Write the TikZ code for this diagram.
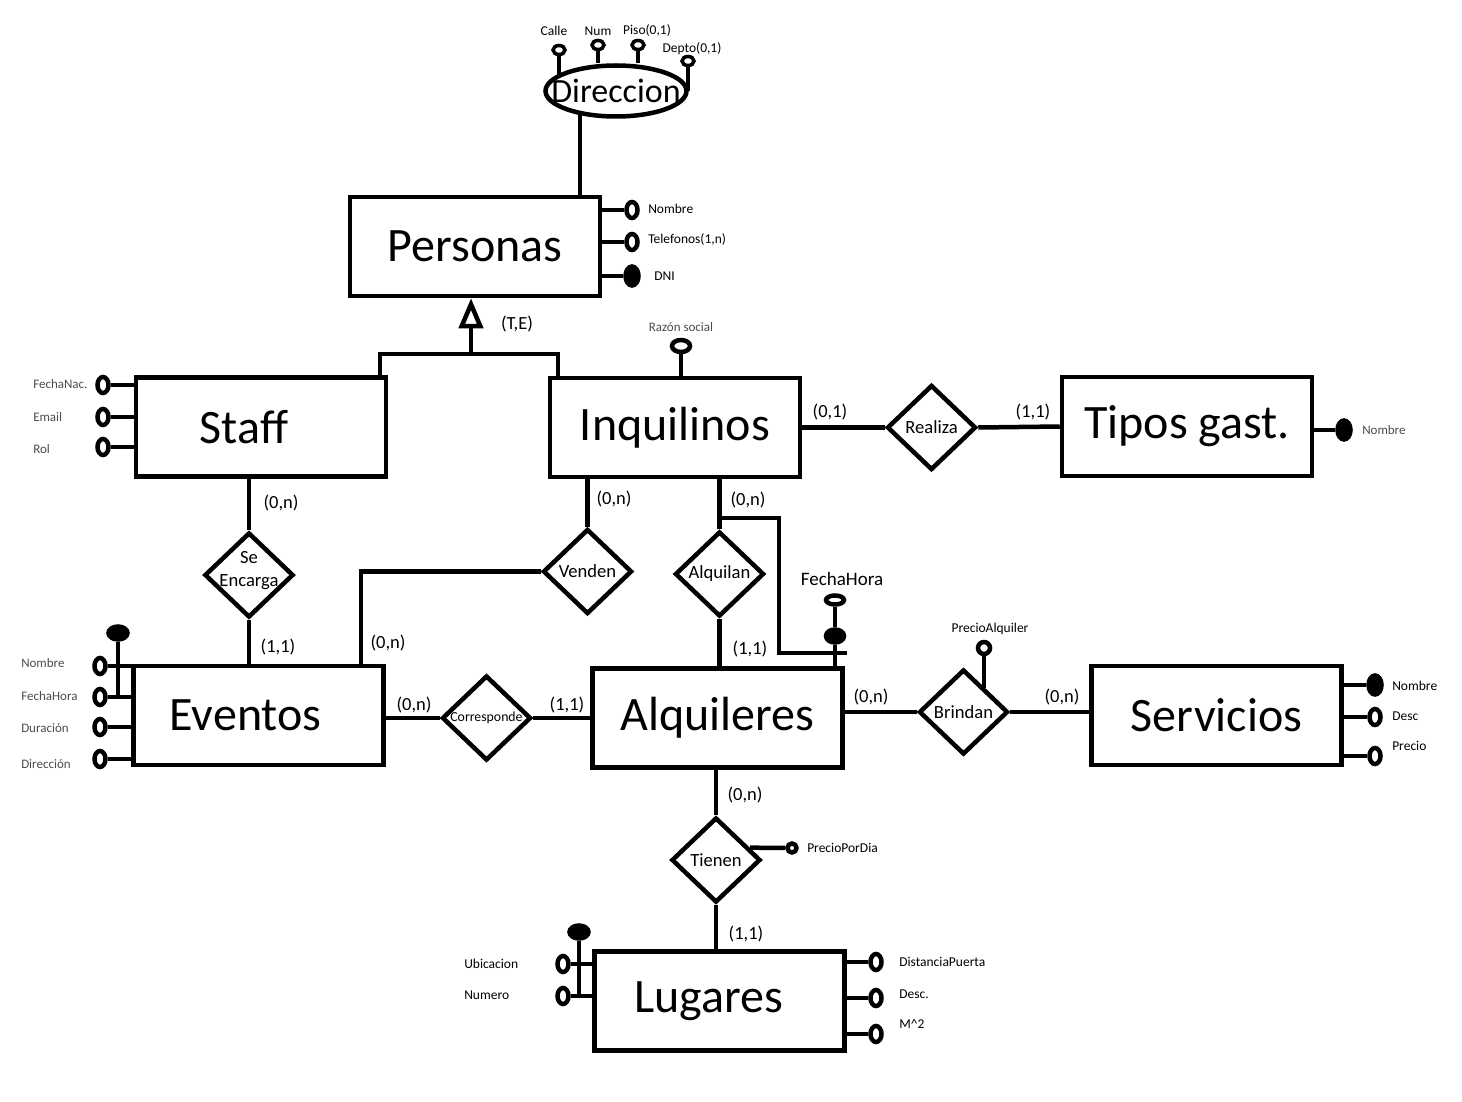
\documentclass[tikz,border=0pt]{standalone}
\usepackage{fontspec}
\setmainfont{Carlito}
\usepackage{xcolor}
\usepackage{tikz}
\usetikzlibrary{arrows.meta,calc,shapes.geometric}

\definecolor{lblgray}{gray}{0.3}

\begin{document}
\begin{tikzpicture}[x=1pt, y=-1pt, line width=4.5pt,
    every node/.style={font=\fontsize{13.5}{15}\selectfont},
    ent/.style={draw, rectangle, minimum width=250pt, minimum height=99pt, inner sep=0pt, font=\fontsize{48}{50}\selectfont},
    rel/.style={draw, diamond, minimum width=89pt, minimum height=85pt, inner sep=0pt, fill=white, font=\fontsize{18.6}{20}\selectfont},
    card/.style={font=\fontsize{18.5}{20}\selectfont},
    att/.style={draw, ellipse, fill=white, inner sep=0pt, minimum width=11pt, minimum height=16pt},
    katt/.style={att, fill=black, minimum width=13pt, minimum height=19pt},
    hatt/.style={att, minimum width=18pt, minimum height=11pt},
    hkatt/.style={att, fill=black, minimum width=19pt, minimum height=13pt},
    datt/.style={att, line width=3.5pt, minimum width=12pt, minimum height=9pt},
    lbl/.style={inner sep=0pt},
    glbl/.style={lbl, text=lblgray, font=\fontsize{13}{15}\selectfont}]
  \useasboundingbox (0,0) rectangle (1462,1102);

  % entidades
  \node[ent] (personas) at (475,246.5) {Personas};
  \node[ent] (staff) at (261,427) {Staff\hspace*{34pt}};
  \node[ent] (inquilinos) at (675,427.5) {Inquilinos};
  \node[ent] (tipos) at (1187,426.5) {Tipos gast.};
  \node[ent] (eventos) at (258.5,715.5) {Eventos\hspace*{26pt}};
  \node[ent] (alquileres) at (717.5,718) {Alquileres};
  \node[ent] (servicios) at (1216.5,715.5) {Servicios};
  \node[ent] (lugares) at (719.5,1001) {Lugares\hspace*{22pt}};

  % relaciones
  \node[rel] (realiza) at (931.5,427.5) {Realiza};
  \node[rel, inner sep=-14pt, align=center, text depth=12pt,
    font=\fontsize{18.6}{23}\selectfont] (encarga) at (249,575) {Se\\Encarga};
  \node[rel] (venden) at (587.5,571.5) {Venden};
  \node[rel] (alquilan) at (719.5,574) {Alquilan};
  \node[rel, font=\fontsize{13.8}{15}\selectfont] (corresponde) at (486.5,718) {Corresponde};
  \node[rel] (brindan) at (963.5,712) {Brindan};
  \node[rel] (tienen) at (716,860) {Tienen};

  % direccion
  \node[draw, ellipse, minimum width=141pt, minimum height=51pt,
    label={[font=\fontsize{34}{36}\selectfont]center:Direccion}] (dir) at (616,91) {};
  \node[datt] (calle) at (559,50) {};
  \node[datt] (num) at (598,45) {};
  \node[datt] (piso) at (638,45) {};
  \node[datt] (depto) at (688,61) {};
  \node[lbl] (lcalle) at (554,31) {Calle};
  \node[lbl] (lnum) at (598,31) {Num};
  \node[lbl] (lpiso) at (647,31) {Piso(0,1)};
  \node[lbl] (ldepto) at (692,49) {Depto(0,1)};
  \draw (calle) -- (calle |- dir.165);
  \draw (num) -- (num |- dir.north);
  \draw (piso) -- (piso |- dir.north);
  \draw (depto) -- (depto |- dir.east);
  \draw (dir.214) -- (dir.214 |- personas.north);

  % atributos personas
  \node[att] (pnom) at (632,210) {};
  \node[att] (ptel) at (632,242) {};
  \node[katt] (pdni) at (632,276) {};
  \node[lbl, anchor=west] (lpnom) at (646,209) {Nombre};
  \node[lbl, anchor=west] (lptel) at (646,239) {Telefonos(1,n)};
  \node[lbl, anchor=west] (lpdni) at (652,276) {DNI};
  \draw (personas.east |- pnom) -- (pnom);
  \draw (personas.east |- ptel) -- (ptel);
  \draw (personas.east |- pdni) -- (pdni);

  % jerarquia
  \coordinate (gen) at (471,354);
  \draw[-{Triangle[open, length=30pt, width=24pt]}] (gen) -- (gen |- personas.south);
  \draw (staff.north -| 380,0) |- (gen) -| (inquilinos.north -| 558,0);
  \node[card] (te) at (517,324) {(T,E)};

  % atributos staff
  \node[att] (sfn) at (103,385) {};
  \node[att] (sem) at (103,417) {};
  \node[att] (srol) at (103,447) {};
  \node[glbl, anchor=west] (lsfn) at (31,384) {FechaNac.};
  \node[glbl, anchor=west] (lsem) at (31,417) {Email};
  \node[glbl, anchor=west] (lsrol) at (31,449) {Rol};
  \draw (sfn) -- (staff.west |- sfn);
  \draw (sem) -- (staff.west |- sem);
  \draw (srol) -- (staff.west |- srol);

  % inquilinos - tipos gast.
  \node[hatt, minimum width=18pt, minimum height=12pt] (rsoc) at (681,346) {};
  \node[glbl] (lrsoc) at (681,327) {Razón social};
  \draw (rsoc) -- (rsoc |- inquilinos.north);
  \draw (inquilinos.east) -- (realiza.west);
  \draw (realiza.east) -- (tipos.west);
  \node[card] (cinq) at (830,412) {(0,1)};
  \node[card] (ctip) at (1033,412) {(1,1)};
  \node[katt] (tnom) at (1344,430) {};
  \node[glbl, anchor=west] (ltnom) at (1360,430) {Nombre};
  \draw (tipos.east |- tnom) -- (tnom);

  % staff - eventos
  \draw (encarga.north |- staff.south) -- (encarga.north);
  \draw (encarga.south) -- (encarga.south |- eventos.north);
  \node[card] (cstaff) at (281,503) {(0,n)};
  \node[card] (cev) at (278,647) {(1,1)};

  % venden
  \draw (venden.north |- inquilinos.south) -- (venden.north);
  \draw (venden.west) -| (eventos.north -| 361,0);
  \node[card] (cven) at (614,499) {(0,n)};
  \node[card] (cvev) at (388,643) {(0,n)};

  % alquilan
  \draw (alquilan.north |- inquilinos.south) -- (alquilan.north);
  \draw (alquilan.south) -- (alquilan.south |- alquileres.north);
  \node[card] (calq) at (748,500) {(0,n)};
  \node[card] (calqs) at (750,649) {(1,1)};
  \coordinate (fht) at (719,518);
  \coordinate (fhl) at (779,653);
  \coordinate (fhr) at (847,653);
  \draw (fht) -| (fhl) -- (fhr);
  \node[hatt, minimum width=18pt, minimum height=9pt] (fhora) at (835,600) {};
  \node[hkatt, minimum width=18pt, minimum height=13pt] (fhkey) at (835,636) {};
  \node[card, font=\fontsize{19}{20}\selectfont] (lfhora) at (842,579) {FechaHora};
  \draw (fhora) -- (fhkey) -- (fhkey |- alquileres.north);

  % atributos eventos
  \node[att] (enom) at (100,666) {};
  \node[att] (efh) at (100,697) {};
  \node[att] (edur) at (100,727) {};
  \node[att] (edir) at (100,759) {};
  \node[hkatt] (ekey) at (118,633) {};
  \node[glbl, anchor=west] (lenom) at (19,663) {Nombre};
  \node[glbl, anchor=west] (lefh) at (19,696) {FechaHora};
  \node[glbl, anchor=west] (ledur) at (19,728) {Duración};
  \node[glbl, anchor=west] (ledir) at (19,764) {Dirección};
  \draw (ekey) -- (ekey |- efh);
  \draw (enom) -- (eventos.west |- enom);
  \draw (efh) -- (eventos.west |- efh);
  \draw (edur) -- (eventos.west |- edur);
  \draw (edir) -- (eventos.west |- edir);

  % corresponde
  \draw (eventos.east |- corresponde) -- (corresponde.west);
  \draw (corresponde.east) -- (corresponde.east -| alquileres.west);
  \node[card] (ccev) at (414,705) {(0,n)};
  \node[card] (ccal) at (567,705) {(1,1)};

  % brindan
  \draw (alquileres.east |- brindan) -- (brindan.west);
  \draw (brindan.east) -- (brindan.east -| servicios.west);
  \node[card] (cbal) at (871,697) {(0,n)};
  \node[card] (cbse) at (1062,697) {(0,n)};
  \node[att, minimum width=12pt, minimum height=12pt] (palq) at (984,648) {};
  \node[lbl] (lpalq) at (990,629) {PrecioAlquiler};
  \draw (palq) -- (palq |- brindan.49);

  % atributos servicios
  \node[katt] (snom) at (1375,685) {};
  \node[att] (sdesc) at (1375,717) {};
  \node[att] (sprec) at (1375,756) {};
  \node[lbl, anchor=west] (lsnom) at (1390,686) {Nombre};
  \node[lbl, anchor=west] (lsdesc) at (1390,716) {Desc};
  \node[lbl, anchor=west] (lsprec) at (1390,746) {Precio};
  \draw (servicios.east |- snom) -- (snom);
  \draw (servicios.east |- sdesc) -- (sdesc);
  \draw (servicios.east |- sprec) -- (sprec);

  % tienen
  \draw (tienen.north |- alquileres.south) -- (tienen.north);
  \draw (tienen.south) -- (tienen.south |- lugares.north);
  \node[card] (ctal) at (745,795) {(0,n)};
  \node[card] (ctlu) at (746,934) {(1,1)};
  \node[att, minimum width=9pt, minimum height=9pt] (ppd) at (792,848) {};
  \node[lbl, anchor=west] (lppd) at (805,848) {PrecioPorDia};
  \draw (tienen.20) -- (ppd);

  % atributos lugares
  \node[att] (lubi) at (563,964) {};
  \node[att] (lnro) at (563,996) {};
  \node[hkatt] (lkey) at (579,932) {};
  \node[lbl, anchor=west] (llubi) at (462,964) {Ubicacion};
  \node[lbl, anchor=west] (llnro) at (462,995) {Numero};
  \draw (lkey) -- (lkey |- lnro);
  \draw (lubi) -- (lugares.west |- lubi);
  \draw (lnro) -- (lugares.west |- lnro);
  \node[att] (ldist) at (876,962) {};
  \node[att] (lldesc) at (876,998) {};
  \node[att] (lm2) at (876,1034) {};
  \node[lbl, anchor=west] (lldist) at (897,962) {DistanciaPuerta};
  \node[lbl, anchor=west] (llldesc) at (897,994) {Desc.};
  \node[lbl, anchor=west] (llm2) at (897,1024) {M\textasciicircum{}2};
  \draw (lugares.east |- ldist) -- (ldist);
  \draw (lugares.east |- lldesc) -- (lldesc);
  \draw (lugares.east |- lm2) -- (lm2);
\end{tikzpicture}
\end{document}
